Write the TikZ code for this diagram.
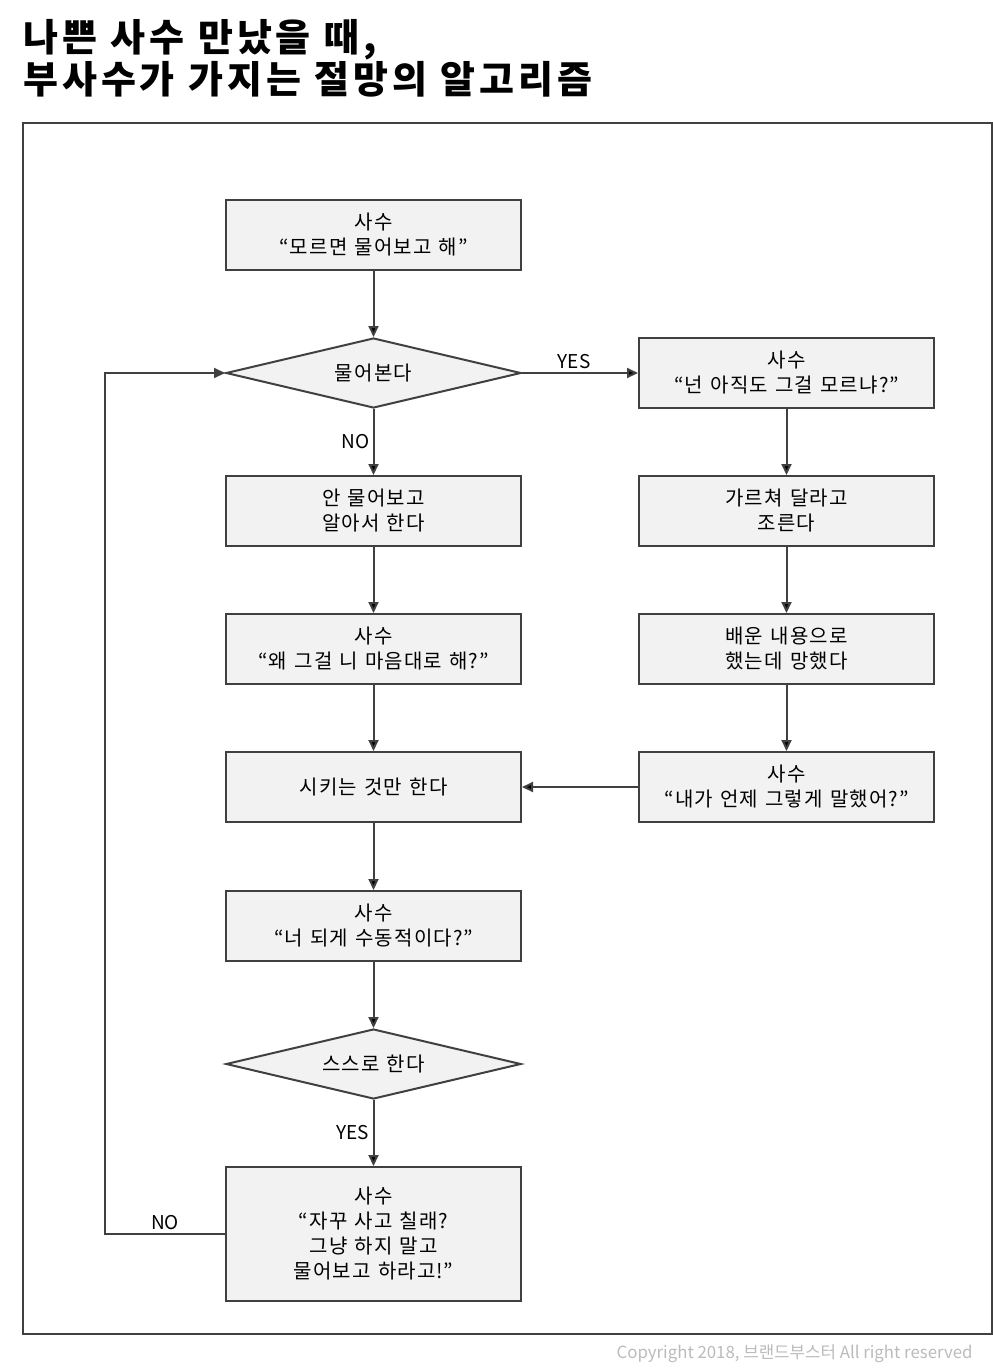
\documentclass[tikz,border=0pt]{standalone}
\usepackage{fontspec}
\setmainfont{Noto Sans CJK KR}[LetterSpace=6,WordSpace=1.25]
\newfontfamily\titlefont{Noto Sans CJK KR}[LetterSpace=10,WordSpace=1.1]
\newfontfamily\plainfont{Noto Sans CJK KR}
\usepackage{tikz}
\usetikzlibrary{positioning,shapes.geometric,arrows.meta}
\definecolor{linegray}{HTML}{404040}
\definecolor{boxgray}{HTML}{F2F2F2}
\definecolor{copygray}{HTML}{BBBBBB}

\begin{document}
\begin{tikzpicture}[node distance=138pt,on grid,auto,
    every node/.style={font=\fontsize{20}{25}\selectfont},
    box/.style={draw=linegray, fill=boxgray, line width=2pt, minimum width=295pt, minimum height=70pt, align=center},
    choice/.style={diamond, draw=linegray, fill=boxgray, line width=2pt, aspect=4.2, inner sep=0pt, minimum width=295pt, minimum height=70pt},
    flow/.style={draw=linegray, line width=2pt, -{Triangle[length=11pt,width=10pt]}},
    answer/.style={font=\plainfont\fontsize{19}{25}\selectfont}]
       \useasboundingbox (0,0) rectangle (993pt,-1371pt);
       % title and frame
       \node[anchor=north west, align=left, font=\titlefont\fontsize{38}{40}\selectfont\bfseries] (title) at (20pt,-16pt) {나쁜 사수 만났을 때,\\부사수가 가지는 절망의 알고리즘};
       \draw[linegray, line width=2pt] (23pt,-123pt) rectangle (992pt,-1334pt);
       \node[anchor=base east, text=copygray, font=\plainfont\fontsize{16.8}{18}\selectfont] (copy) at (976pt,-1358pt) {Copyright 2018, 브랜드부스터 All right reserved};
       % left column
       \node[box] (start) at (373.5pt,-235pt) {사수\\“모르면 물어보고 해”};
       \node[choice] (ask) [below=of start] {물어본다};
       \node[box] (alone) [below=of ask] {안 물어보고\\알아서 한다};
       \node[box] (why) [below=of alone] {사수\\“왜 그걸 니 마음대로 해?”};
       \node[box] (only) [below=of why] {시키는 것만 한다};
       \node[box] (passive) [below=139pt of only] {사수\\“너 되게 수동적이다?”};
       \node[choice] (self) [below=of passive] {스스로 한다};
       \node[box, minimum height=134pt] (scold) [below=170pt of self] {사수\\“자꾸 사고 칠래?\\그냥 하지 말고\\물어보고 하라고!”};
       % right column
       \node[box] (still) [right=413pt of ask] {사수\\“넌 아직도 그걸 모르냐?”};
       \node[box] (beg) [below=of still] {가르쳐 달라고\\조른다};
       \node[box] (fail) [below=of beg] {배운 내용으로\\했는데 망했다};
       \node[box] (when) [below=of fail] {사수\\“내가 언제 그렇게 말했어?”};
        \path[flow]
        		(start)	edge (ask)
        		(ask)		edge node [answer, pos=0.45] {YES} (still)
              		edge node [answer, swap] {NO} (alone)
        		(alone)	edge (why)
        		(why)		edge (only)
        		(still)	edge (beg)
        		(beg)		edge (fail)
        		(fail)	edge (when)
        		(when)	edge (only)
        		(only)	edge (passive)
        		(passive)	edge (self)
        		(self)	edge node [answer, swap] {YES} (scold);
        \draw[flow] (scold.west) -- ++(-120pt,0) node [answer, midway, above] {NO} |- (ask.west);
    \end{tikzpicture}
\end{document}
